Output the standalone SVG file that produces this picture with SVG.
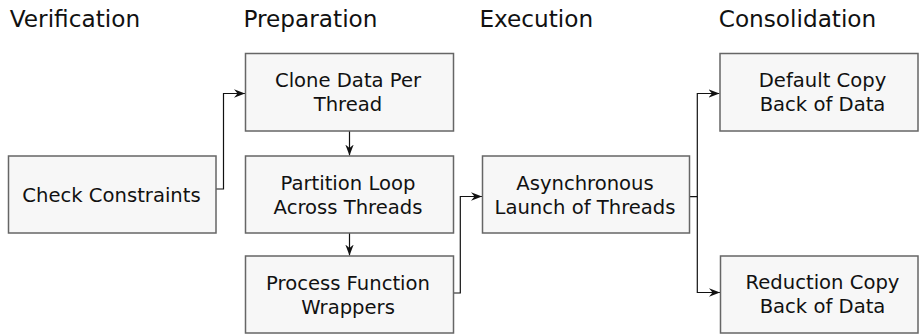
<svg xmlns="http://www.w3.org/2000/svg" width="919" height="335" viewBox="0 0 919 335">
<style>
.title{font-family:"DejaVu Sans",sans-serif;font-size:23.2px;fill:#111}
.box rect{fill:#f7f7f7;stroke:#666;stroke-width:1.5}
.box text{font-family:"DejaVu Sans",sans-serif;font-size:19.6px;fill:#111;text-anchor:middle}
.conn path{fill:none;stroke:#111;stroke-width:1.2;marker-end:url(#arr)}
</style>
<defs>
<marker id="arr" markerUnits="userSpaceOnUse" viewBox="-11 -5 12 10" refX="0" refY="0" markerWidth="12" markerHeight="10" orient="auto">
<path d="M0,0 L-11,-4.2 L-7.5,0 L-11,4.2 Z" fill="#111"/>
</marker>
</defs>
<rect width="919" height="335" fill="#fff"/>
<g id="titles">
<text class="title" x="9.8" y="27.3">Verification</text>
<text class="title" x="243.5" y="27.3">Preparation</text>
<text class="title" x="479.4" y="27.3">Execution</text>
<text class="title" x="718.7" y="27.3">Consolidation</text>
</g>
<g class="conn" id="connectors">
<path d="M216,189 H223.5 V93.5 H245"/>
<path d="M349.5,131 V155.5"/>
<path d="M349.5,233 V255.5"/>
<path d="M453.5,293 H460.3 V196.5 H482"/>
<path d="M690,196.7 H697.3 V93.5 H719.5"/>
<path d="M697.3,196.7 V292.5 H720"/>
</g>
<g class="box" id="n-check">
<rect x="8.5" y="156" width="207.5" height="77"/>
<text x="111.5" y="202">Check Constraints</text>
</g>
<g class="box" id="n-clone">
<rect x="245.5" y="53.5" width="208" height="77.5"/>
<text x="348" y="87">Clone Data Per</text>
<text x="348" y="111">Thread</text>
</g>
<g class="box" id="n-partition">
<rect x="245.5" y="156" width="208" height="77"/>
<text x="348" y="189.5">Partition Loop</text>
<text x="348" y="213.5">Across Threads</text>
</g>
<g class="box" id="n-process">
<rect x="245.5" y="256" width="208" height="77"/>
<text x="348" y="289.5">Process Function</text>
<text x="348" y="313.5">Wrappers</text>
</g>
<g class="box" id="n-async">
<rect x="482.5" y="156" width="207" height="77"/>
<text x="585" y="189.5">Asynchronous</text>
<text x="585" y="213.5">Launch of Threads</text>
</g>
<g class="box" id="n-default">
<rect x="720" y="53.5" width="198" height="77.5"/>
<text x="822.5" y="87">Default Copy</text>
<text x="822.5" y="110.5">Back of Data</text>
</g>
<g class="box" id="n-reduction">
<rect x="720.5" y="256" width="197.5" height="77"/>
<text x="822.5" y="289">Reduction Copy</text>
<text x="822.5" y="312.5">Back of Data</text>
</g>
</svg>
